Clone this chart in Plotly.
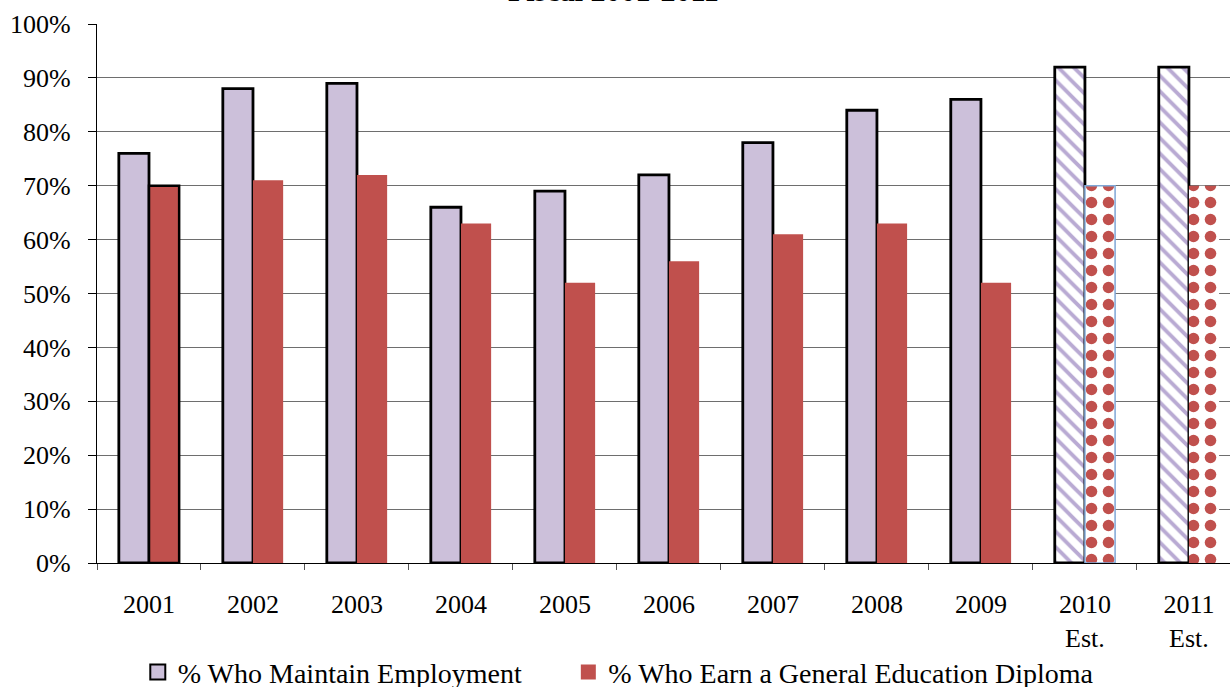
import plotly.graph_objects as go

categories = ["2001", "2002", "2003", "2004", "2005", "2006", "2007", "2008", "2009", "2010<br>Est.", "2011<br>Est."]
employment = [76, 88, 89, 66, 69, 72, 78, 84, 86, 92, 92]
diploma = [70, 71, 72, 63, 52, 56, 61, 63, 52, 70, 70]
y_ticks = [0, 10, 20, 30, 40, 50, 60, 70, 80, 90, 100]
y_labels = [f"{v}%" for v in y_ticks]
names = ["% Who Maintain Employment", "% Who Earn a General Education Diploma"]
title_text = "Fiscal 2001-2011"

PURPLE = "#CCC0DA"
RED = "#C0504D"
FONT = "Liberation Serif"

emp_shapes = [""] * 9 + ["\\", "\\"]
dip_shapes = [""] * 9 + [".", "."]
dip_line_col = ["black"] + [RED] * 8 + ["#7FA7D6", RED]
dip_line_w = [2.5] + [0] * 8 + [1.5, 0]

fig = go.Figure()
fig.add_trace(go.Bar(
    x=categories, y=employment, name=names[0], showlegend=False,
    marker=dict(color=PURPLE,
                line=dict(color="black", width=2.8),
                pattern=dict(shape=emp_shapes, fgcolor="#B9AAD3", bgcolor="white",
                             size=11, solidity=0.35, fillmode="replace")),
))
fig.add_trace(go.Bar(
    x=categories, y=diploma, name=names[1], showlegend=False,
    marker=dict(color=RED,
                line=dict(color=dip_line_col, width=dip_line_w),
                pattern=dict(shape=dip_shapes, fgcolor=RED, bgcolor="white",
                             size=17, solidity=0.36, fillmode="replace")),
))
# legend entries
fig.add_trace(go.Scatter(x=[None], y=[None], mode="markers", name=names[0], legend="legend",
                         marker=dict(symbol="square", size=15, color=PURPLE,
                                     line=dict(color="black", width=2))))
fig.add_trace(go.Scatter(x=[None], y=[None], mode="markers", name=names[1], legend="legend2",
                         marker=dict(symbol="square", size=15, color=RED,
                                     line=dict(width=0))))

fig.update_layout(
    width=1230, height=687,
    margin=dict(l=97, r=0, t=24, b=124, autoexpand=False),
    paper_bgcolor="white", plot_bgcolor="white",
    barmode="group", bargap=0.42, bargroupgap=0,
    font=dict(family=FONT, size=26, color="black"),
    showlegend=True,
    legend=dict(orientation="h", x=0.036, xanchor="left", y=-0.203, yanchor="middle",
                font=dict(family=FONT, size=28), itemwidth=30),
    legend2=dict(orientation="h", x=0.416, xanchor="left", y=-0.203, yanchor="middle",
                 font=dict(family=FONT, size=28), itemwidth=30),
    xaxis=dict(type="category", range=[-0.5, 10.395], showline=True, linecolor="black",
               linewidth=1.2, ticks="outside", tickson="boundaries", ticklen=6,
               tickcolor="#555", showgrid=False, ticklabelstandoff=18, automargin=False,
               tickfont=dict(family=FONT, size=26)),
    yaxis=dict(range=[0, 100], tickvals=y_ticks, ticktext=y_labels, showline=True,
               linecolor="black", linewidth=1.2, ticks="outside", ticklen=8,
               tickcolor="black", showgrid=True, gridcolor="#6e6e6e", gridwidth=1,
               zeroline=False, ticklabelstandoff=12, automargin=False,
               tickfont=dict(family=FONT, size=26)),
    annotations=[dict(text="<b>" + title_text + "</b>", xref="paper", yref="paper",
                      x=0.456, y=1.027, xanchor="center", yanchor="bottom",
                      showarrow=False, font=dict(family=FONT, size=30))],
)

fig.write_html("out.html", config={"displayModeBar": False},
               post_script="document.body.style.margin='0';")
